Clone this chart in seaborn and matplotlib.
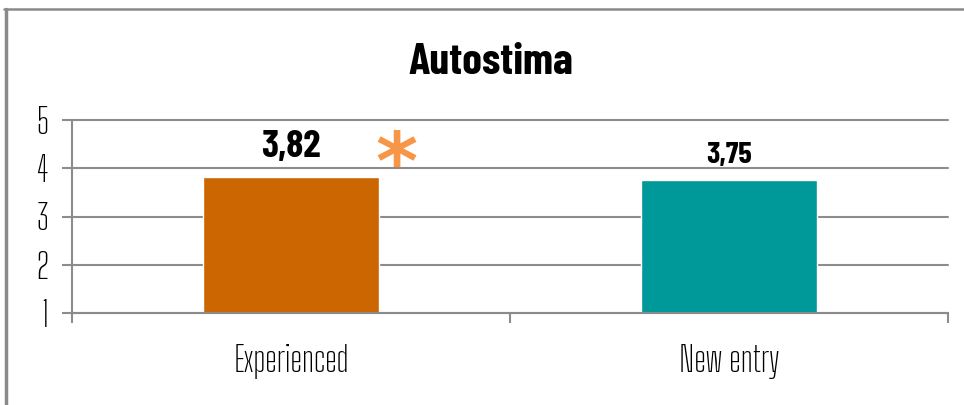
import matplotlib
matplotlib.use('Agg')
import matplotlib.pyplot as plt
import seaborn as sns
import pandas as pd

# Data
groups = ['Experienced', 'New entry']
scores = [3.82, 3.75]
score_labels = ['3,82', '3,75']
bar_colors = ['#CC6600', '#009999']
y_ticks = [1, 2, 3, 4, 5]
title = 'Autostima'

sns.set_style('white')
# condensed faces close to the original Agency-like font, DejaVu as fallback
light_font = ['Big Shoulders Text', 'Barlow Condensed', 'DejaVu Sans']
bold_font = ['Barlow Condensed', 'DejaVu Sans']
plt.rcParams['font.family'] = light_font
plt.rcParams['text.color'] = 'black'
plt.rcParams['xtick.color'] = 'black'
plt.rcParams['ytick.color'] = 'black'

grid_col = '#8c8c8c'

fig = plt.figure(figsize=(9.64, 4.05), dpi=100)
ax = fig.add_axes([72 / 964, 1 - 313 / 405, 876 / 964, 193 / 405])

df = pd.DataFrame({'group': groups, 'score': scores})
sns.barplot(data=df, x='group', y='score', hue='group', palette=bar_colors,
            width=0.4, legend=False, ax=ax, saturation=1)

ax.set_xlim(-0.5, 1.5)
ax.set_ylim(1, 5)
ax.set_yticks(y_ticks)
ax.set_xlabel('')
ax.set_ylabel('')

# grid and axes
ax.yaxis.grid(True, color=grid_col, linewidth=1.5)
for gl in ax.get_ygridlines():
    gl.set_clip_on(False)
ax.set_axisbelow(True)
for side in ['top', 'right']:
    ax.spines[side].set_visible(False)
for side in ['left', 'bottom']:
    ax.spines[side].set_color(grid_col)
    ax.spines[side].set_linewidth(1.5)

ax.tick_params(axis='y', direction='out', length=7, width=1.5, color=grid_col,
               pad=10, labelsize=25, left=True)
ax.set_xticks([-0.5, 0.5, 1.5], minor=True)
ax.tick_params(axis='x', which='minor', direction='out', length=7, width=1.5,
               color=grid_col, bottom=True)
ax.tick_params(axis='x', which='major', length=0, pad=22, labelsize=25)

# value labels
ax.text(0, scores[0] + 0.42, score_labels[0], ha='center', va='baseline',
        fontsize=28, fontweight='bold', family=bold_font)
ax.text(1, scores[1] + 0.36, score_labels[1], ha='center', va='baseline',
        fontsize=22, fontweight='bold', family=bold_font)
ax.text(0.24, 4.02, '*', ha='center', va='center', fontsize=58,
        fontweight='bold', color='#F79646', family='DejaVu Sans')

fig.text(491 / 964, 1 - 63 / 405, title, ha='center', va='center',
         fontsize=32, fontweight='bold', family=bold_font)

# frame on top and left
fig.add_artist(plt.Line2D([5.5 / 964, 5.5 / 964], [0, 1 - 9 / 405], transform=fig.transFigure,
                          color='#8a8a8a', linewidth=2.5))
fig.add_artist(plt.Line2D([4 / 964, 1], [1 - 9 / 405, 1 - 9 / 405], transform=fig.transFigure,
                          color='#8a8a8a', linewidth=1.8))

fig.savefig('out.png', dpi=100)
